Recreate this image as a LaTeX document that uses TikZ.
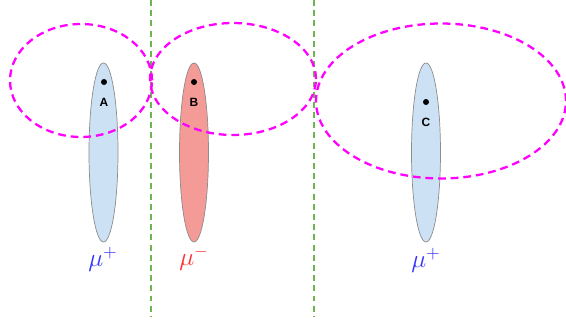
\documentclass[tikz,border=0pt]{standalone}
\usepackage{fontspec}
\setsansfont{Liberation Sans}
\usetikzlibrary{shapes.geometric,positioning}
\definecolor{muonblue}{HTML}{CCE1F4}
\definecolor{muonred}{HTML}{F49A97}
\definecolor{cutgreen}{HTML}{6DB54E}
\definecolor{conemag}{HTML}{FF00FF}
\definecolor{plustext}{HTML}{3535FF}
\definecolor{minustext}{HTML}{FF3030}

\begin{document}
\begin{tikzpicture}[x=0.02cm,y=-0.02cm]
    \tikzstyle{track}=[ellipse,draw=black!45,line width=0.4pt,minimum width=0.58cm,minimum height=3.58cm,inner sep=0pt]
    \tikzstyle{cone}=[ellipse,draw=conemag,line width=1.3pt,dash pattern=on 4.4pt off 2.8pt,inner sep=0pt]
    \tikzstyle{cut}=[draw=cutgreen,line width=1.1pt,dash pattern=on 3.4pt off 2.4pt]
    \tikzstyle{hit}=[circle,fill=black,minimum size=3.4pt,inner sep=0pt]
    \tikzstyle{tag}=[font=\fontsize{6.8}{7}\selectfont\sffamily\bfseries,inner sep=0pt]
    \tikzstyle{charge}=[font=\fontsize{14.5}{16}\selectfont,inner sep=0pt]
    \useasboundingbox (0,0) rectangle (566,327);
    % cuts
    \coordinate (c1t) at (151,0);
    \coordinate (c1b) at (151,316);
    \coordinate (c2t) at (314,0);
    \coordinate (c2b) at (314,316);
    \draw[cut] (c1t) -- (c1b);
    \draw[cut] (c2t) -- (c2b);
    % tracks
    \node[track,fill=muonblue] (ta) at (103.5,152.5) {};
    \node[track,fill=muonred] (tb) at (194,152.5) {};
    \node[track,fill=muonblue] (tc) at (426,152.5) {};
    % cones
    \node[cone,minimum width=2.84cm,minimum height=2.26cm] (ka) at (81,80.5) {};
    \node[cone,minimum width=3.32cm,minimum height=2.24cm] (kb) at (233,79) {};
    \node[cone,minimum width=5cm,minimum height=3.1cm] (kc) at (441,101) {};
    % hits
    \node[hit] (ha) at (104,82) {};
    \node[hit] (hb) at (194,82) {};
    \node[hit] (hc) at (426,102) {};
    \node[tag,below=7pt of ha] (la) {A};
    \node[tag,below=7pt of hb] (lb) {B};
    \node[tag,below=7pt of hc] (lc) {C};
    \node[charge,text=plustext] (qa) at (103,259) {$\mu^+$};
    \node[charge,text=minustext] (qb) at (194,258) {$\mu^-$};
    \node[charge,text=plustext] (qc) at (426,260) {$\mu^+$};
\end{tikzpicture}
\end{document}
